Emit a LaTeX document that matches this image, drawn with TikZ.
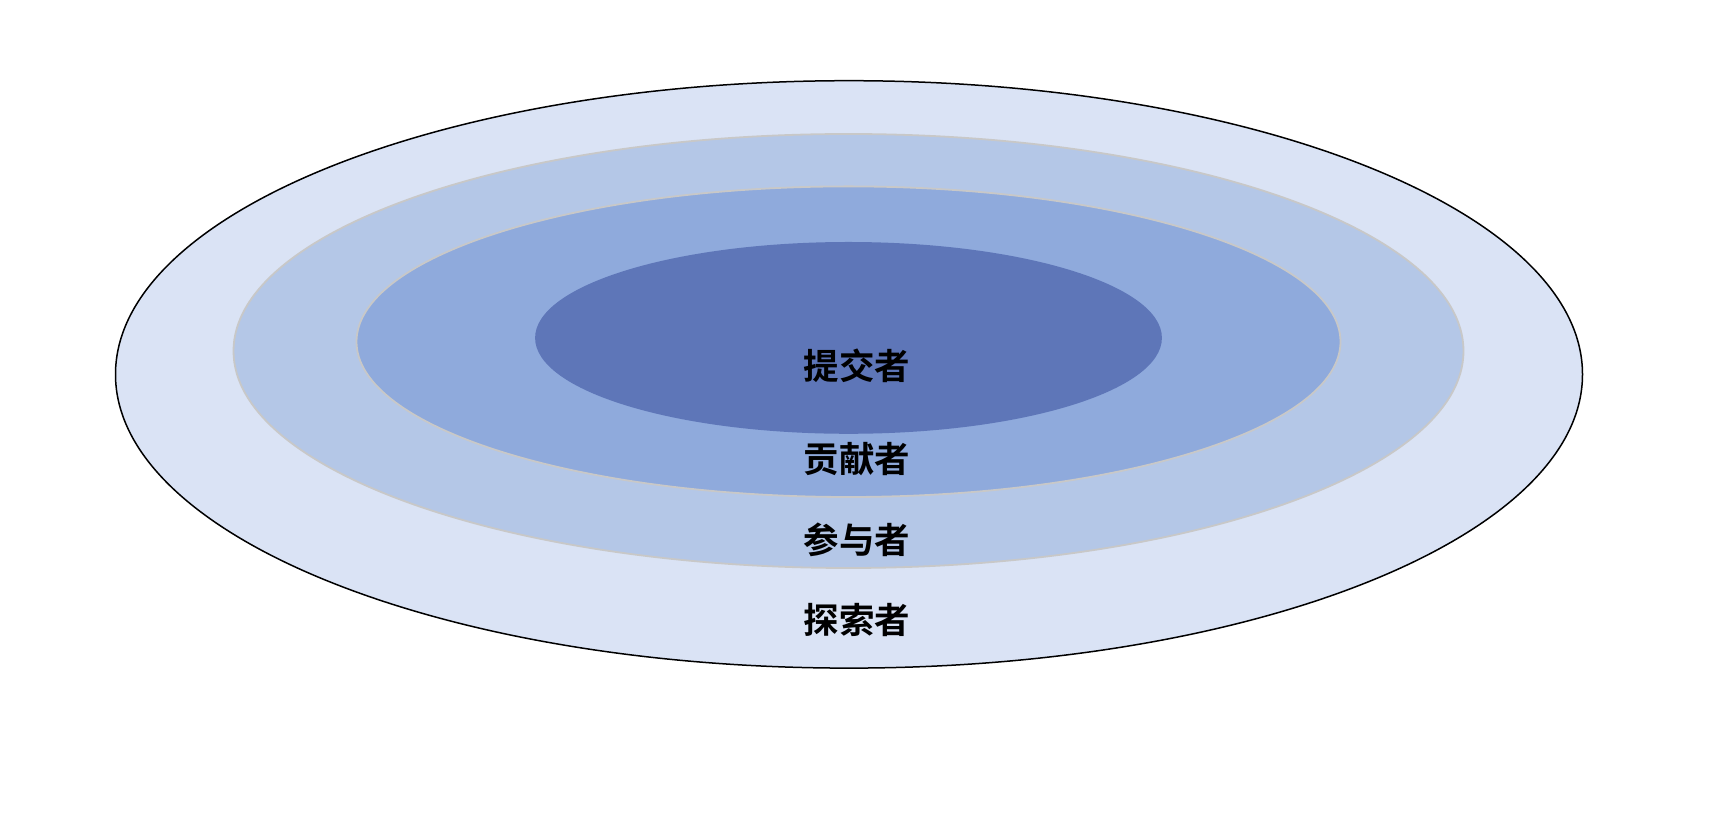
\documentclass[tikz,border=0pt]{standalone}
\usepackage{fontspec}
\newfontfamily\cjk{Noto Sans CJK SC}[BoldFont={Noto Sans CJK SC Bold}]
\definecolor{c1}{HTML}{DAE3F5}
\definecolor{c2}{HTML}{B4C7E7}
\definecolor{c3}{HTML}{8FAADC}
\definecolor{c4}{HTML}{5E76B8}
\definecolor{rim}{HTML}{C8C8C8}
\begin{document}
\begin{tikzpicture}[x=1pt,y=1pt,
  lbl/.style={font=\cjk\bfseries\fontsize{35.5}{38}\selectfont, text=black, inner sep=0pt}]
\useasboundingbox (0,0) rectangle (1709,814);
\fill[white] (0,0) rectangle (1709,814);
\draw[fill=c1, draw=black, line width=1.5pt] (849,439.6) ellipse [x radius=733.5, y radius=293.7];
\draw[fill=c2, draw=rim, line width=1.8pt] (848.5,463) ellipse [x radius=615, y radius=217];
\draw[fill=c3, draw=rim, line width=1.8pt] (848.5,472.3) ellipse [x radius=492, y radius=155.3];
\fill[c4] (848.5,476.1) ellipse [x radius=313.4, y radius=95.9];
\node[lbl] (t1) at (857,448) {提交者};
\node[lbl] (t2) at (857,355) {贡献者};
\node[lbl] (t3) at (857,274) {参与者};
\node[lbl] (t4) at (857,194) {探索者};
\end{tikzpicture}
\end{document}
